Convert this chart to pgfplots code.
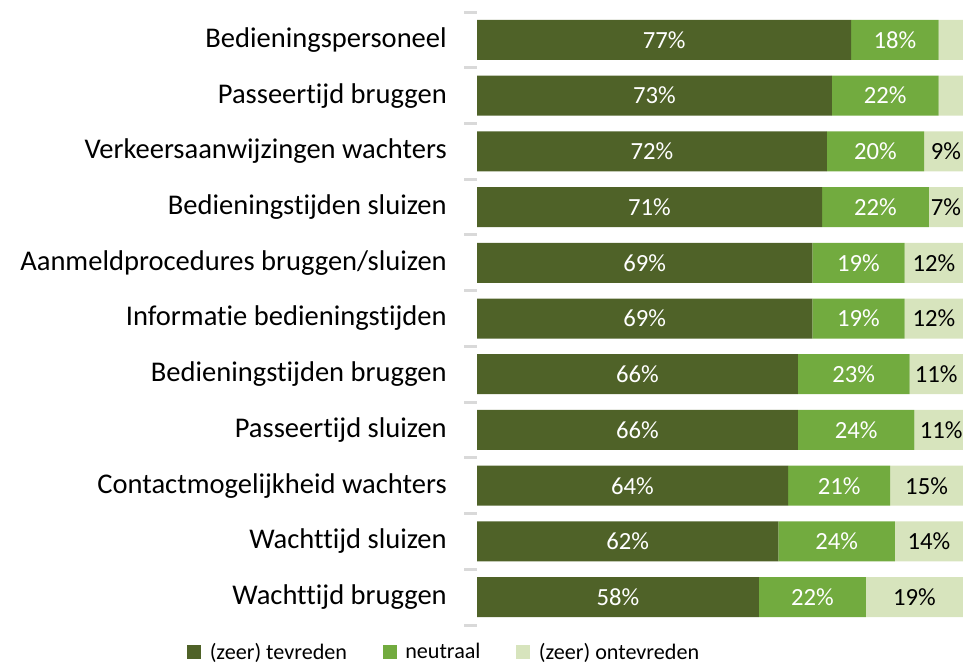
\documentclass[border=0pt]{standalone}
\usepackage{fontspec}
\setmainfont{Carlito}[Ligatures={NoCommon}]
\usepackage{pgfplots}
\pgfplotsset{compat=1.18}
\usepackage{pgfplotstable}
\definecolor{cDark}{HTML}{4F6228}
\definecolor{cMid}{HTML}{72AB3F}
\definecolor{cLight}{HTML}{D7E4BD}
\definecolor{cTick}{HTML}{D9D9D9}

\pgfplotstableread{
y tev neu ont
0 77 18 5
1 73 22 5
2 72 20 9
3 71 22 7
4 69 19 12
5 69 19 12
6 66 23 11
7 66 24 11
8 64 21 15
9 62 24 14
10 58 22 20
}\data

\pgfplotstableread{
x y v
38.5 0 77
36.5 1 73
36 2 72
35.5 3 71
34.5 4 69
34.5 5 69
33 6 66
33 7 66
32 8 64
31 9 62
29 10 58
}\labDark

\pgfplotstableread{
x y v
86 0 18
84 1 22
82 2 20
82 3 22
78.5 4 19
78.5 5 19
77.5 6 23
78 7 24
74.5 8 21
74 9 24
69 10 22
}\labMid

\pgfplotstableread{
x y v
96.5 2 9
96.5 3 7
94 4 12
94 5 12
94.5 6 11
95.5 7 11
92.5 8 15
93 9 14
90 10 19
}\labLight

\begin{document}
\begin{tikzpicture}
\useasboundingbox (0,0) rectangle (722.25pt,498pt);
\begin{axis}[
  at={(357.75pt,29.25pt)}, anchor=south west,
  scale only axis, width=364.5pt, height=459.75pt,
  xbar stacked, bar width=30pt,
  xmin=0, xmax=100, ymin=-0.5, ymax=10.5,
  y dir=reverse,
  axis x line=none, axis y line=left,
  axis line style={draw=none},
  ytick={0,...,10},
  yticklabels={Bedieningspersoneel, Passeertijd bruggen, Verkeersaanwijzingen wachters, Bedieningstijden sluizen, Aanmeldprocedures bruggen/sluizen, Informatie bedieningstijden, Bedieningstijden bruggen, Passeertijd sluizen, Contactmogelijkheid wachters, Wachttijd sluizen, Wachttijd bruggen},
  major tick length=0pt,
  major tick style={draw=none},
  minor ytick={-0.5,0.5,...,10.5},
  minor tick length=9.75pt,
  tick align=outside,
  minor tick style={draw=cTick, line width=2.25pt},
  y tick label style={font=\fontsize{21.4}{25}\selectfont, anchor=east, inner sep=0pt, xshift=-22.5pt},
  legend columns=3,
  legend style={at={(axis description cs:-0.597,-0.044)}, anchor=west, draw=none, fill=none, inner sep=0pt,
    font=\fontsize{16.6}{19}\selectfont,
    /tikz/every odd column/.style={column sep=4.5pt},
    /tikz/every even column/.style={column sep=24.75pt}},
  legend cell align=left,
  legend image code/.code={\fill[#1] (0pt,-5.25pt) rectangle (10.5pt,5.25pt);},
]
\addplot[fill=cDark, draw=none] table[x=tev, y=y] {\data};
\addlegendentry{(zeer) tevreden}
\addplot[fill=cMid, draw=none] table[x=neu, y=y] {\data};
\addlegendentry{neutraal}
\addplot[fill=cLight, draw=none] table[x=ont, y=y] {\data};
\addlegendentry{(zeer) ontevreden}
\end{axis}
\begin{axis}[
  at={(357.75pt,29.25pt)}, anchor=south west,
  scale only axis, width=364.5pt, height=459.75pt,
  xmin=0, xmax=100, ymin=-0.5, ymax=10.5,
  y dir=reverse, hide axis, clip=false,
  point meta=explicit,
  /pgf/number format/assume math mode=true,
  nodes near coords={\pgfmathprintnumber{\pgfplotspointmeta}\%},
  every node near coord/.append style={anchor=center, inner sep=0pt, font=\fontsize{18.5}{22}\selectfont},
]
\addplot[draw=none, mark=none, every node near coord/.append style={text=white}] table[x=x, y=y, meta=v] {\labDark};
\addplot[draw=none, mark=none, every node near coord/.append style={text=white}] table[x=x, y=y, meta=v] {\labMid};
\addplot[draw=none, mark=none, every node near coord/.append style={text=black}] table[x=x, y=y, meta=v] {\labLight};
\end{axis}
\end{tikzpicture}
\end{document}
